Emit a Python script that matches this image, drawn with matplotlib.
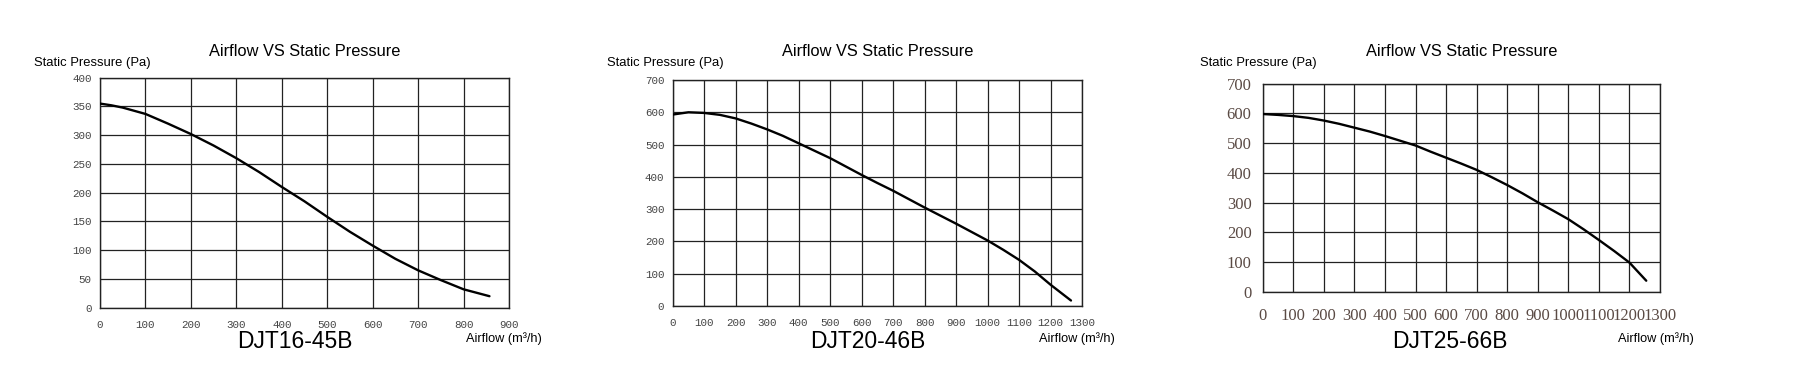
import matplotlib
matplotlib.use("Agg")
import matplotlib.pyplot as plt

W, H = 1818, 381

# DJT16-45B
x1 = [0, 25, 50, 100, 150, 200, 250, 300, 350, 400, 450, 500, 550, 600, 650, 700, 750, 800, 857]
y1 = [355, 352, 348, 337, 320, 302, 282, 260, 236, 210, 185, 158, 132, 108, 85, 65, 48, 32, 20]
# DJT20-46B
x2 = [0, 50, 100, 150, 200, 250, 300, 350, 400, 450, 500, 550, 600, 650, 700, 750, 800,
      850, 900, 950, 1000, 1050, 1100, 1150, 1200, 1265]
y2 = [593, 600, 598, 592, 581, 565, 547, 527, 504, 481, 458, 432, 406, 381, 357, 331, 305,
      280, 255, 229, 203, 174, 143, 107, 66, 17]
# DJT25-66B
x3 = [0, 50, 100, 150, 200, 250, 300, 350, 400, 450, 500, 550, 600, 650, 700, 750, 800,
      850, 900, 950, 1000, 1050, 1100, 1150, 1200, 1255]
y3 = [598, 595, 591, 585, 576, 565, 552, 539, 524, 508, 492, 471, 451, 431, 410, 385, 359,
      331, 301, 273, 244, 210, 174, 137, 98, 37]

models = ["DJT16-45B", "DJT20-46B", "DJT25-66B"]
xticks = [list(range(0, 901, 100)), list(range(0, 1301, 100)), list(range(0, 1301, 100))]
yticks = [list(range(0, 401, 50)), list(range(0, 701, 100)), list(range(0, 701, 100))]

# axes boxes in pixels: left, top, right, bottom
boxes = [(100, 77.7, 509, 307.7), (672.7, 80, 1082, 306), (1262.7, 83.7, 1660, 291.7)]
# text anchors in pixels
titles = [(305, 52), (878, 52), (1462, 52)]
ylabs = [(34, 63), (607, 63), (1200, 63)]
names = [(295, 342), (868, 342), (1450, 342)]
xlabs = [(466, 339), (1039, 339), (1618, 339)]

fig = plt.figure(figsize=(W / 100, H / 100), dpi=100)

def fx(px): return px / W
def fy(py): return 1 - py / H

data = [(x1, y1), (x2, y2), (x3, y3)]
for i in range(3):
    l, t, r, b = boxes[i]
    ax = fig.add_axes([fx(l), fy(b), (r - l) / W, (b - t) / H])
    xs, ys = data[i]
    ax.plot(xs, ys, color="black", lw=1.7, zorder=3, solid_capstyle="round")
    ax.set_xlim(xticks[i][0], xticks[i][-1])
    ax.set_ylim(yticks[i][0], yticks[i][-1])
    ax.set_xticks(xticks[i])
    ax.set_yticks(yticks[i])
    ax.grid(True, color="#222222", lw=0.9)
    ax.tick_params(length=0)
    for s in ax.spines.values():
        s.set_color("#222222")
        s.set_linewidth(1.0)
    if i < 2:
        ax.tick_params(axis="x", pad=9, labelsize=7.8, labelcolor="#444444")
        ax.tick_params(axis="y", pad=6, labelsize=7.8, labelcolor="#444444")
        for lab in ax.get_xticklabels() + ax.get_yticklabels():
            lab.set_family("Liberation Mono")
    else:
        ax.tick_params(axis="x", pad=12, labelsize=12, labelcolor="#5a4a44")
        ax.tick_params(axis="y", pad=8, labelsize=12, labelcolor="#5a4a44")
        for lab in ax.get_xticklabels() + ax.get_yticklabels():
            lab.set_family("Liberation Serif")

    fig.text(fx(titles[i][0]), fy(titles[i][1]), "Airflow VS Static Pressure",
             ha="center", va="center", fontsize=11.8, family="Liberation Sans")
    fig.text(fx(ylabs[i][0]), fy(ylabs[i][1]), "Static Pressure (Pa)",
             ha="left", va="center", fontsize=9.4, family="Liberation Sans")
    fig.text(fx(names[i][0]), fy(names[i][1]), models[i],
             ha="center", va="center", fontsize=16.5, family="Liberation Sans")
    fig.text(fx(xlabs[i][0]), fy(xlabs[i][1]), "Airflow (m³/h)",
             ha="left", va="center", fontsize=9.2, family="Liberation Sans")

fig.savefig("out.png", dpi=100)
